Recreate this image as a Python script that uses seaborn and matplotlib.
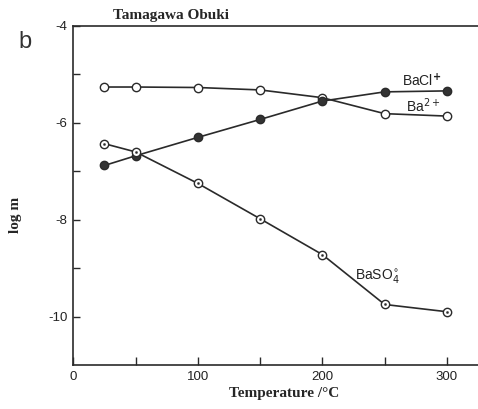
import pandas as pd
import matplotlib
matplotlib.use('Agg')
import matplotlib.pyplot as plt
import seaborn as sns

# datos (log m vs temperatura)
temperatura = [25, 50, 100, 150, 200, 250, 300]
log_ba = [-5.26, -5.26, -5.27, -5.32, -5.48, -5.81, -5.86]
log_bacl = [-6.88, -6.68, -6.30, -5.93, -5.55, -5.36, -5.34]
log_baso4 = [-6.43, -6.60, -7.25, -7.98, -8.72, -9.75, -9.90]

especies = ['Ba2+', 'BaCl+', 'BaSO4']
df = pd.DataFrame({
    'T': temperatura * 3,
    'logm': log_ba + log_bacl + log_baso4,
    'especie': [e for e in especies for _ in temperatura],
})

sns.set_style('ticks')
plt.rcParams['font.family'] = ['Liberation Sans', 'DejaVu Sans']
plt.rcParams['axes.unicode_minus'] = False

fig = plt.figure(figsize=(4.78, 4.09), dpi=100)
ax = fig.add_axes([73.3 / 478, 1 - 365 / 409, 1 - 73.3 / 478, (365 - 26) / 409])

tinta = '#2a2a2a'
relleno = {'Ba2+': 'white', 'BaCl+': '#333333', 'BaSO4': 'white'}
for e in especies:
    sns.lineplot(data=df[df['especie'] == e], x='T', y='logm', ax=ax,
                 color=tinta, linewidth=1.2, marker='o', markersize=6,
                 markerfacecolor=relleno[e], markeredgecolor=tinta,
                 markeredgewidth=1.0)
# punto central de los circulos de BaSO4
sns.scatterplot(x=temperatura, y=log_baso4, ax=ax, s=3, color=tinta,
                edgecolor=None, zorder=5)

ax.set_xlim(0, 325)
ax.set_ylim(-11, -4)
ax.set_xticks([0, 100, 200, 300])
ax.set_xticks([50, 150, 250], minor=True)
ax.set_yticks([-4, -6, -8, -10])
ax.set_yticks([-5, -7, -9], minor=True)
ax.tick_params(axis='both', which='both', direction='in', width=1.0,
               color=tinta, labelsize=9.5, labelcolor='#222222')
ax.tick_params(axis='x', which='both', length=6, pad=4)
ax.tick_params(axis='y', which='both', length=5, pad=4)
ax.set_xlabel('')
ax.set_ylabel('')

for lado in ['left', 'bottom', 'top']:
    ax.spines[lado].set_linewidth(1.2)
    ax.spines[lado].set_color(tinta)
ax.spines['right'].set_visible(False)


# textos en pixeles de la figura (origen arriba-izquierda como en la imagen)
def px(x, y):
    return x / 478, 1 - y / 409


fig.text(*px(402, 86), 'BaCl$^{\\mathbf{+}}$', fontsize=10,
         color='#222222', va='baseline')
fig.text(*px(406, 112), 'Ba$^{2+}$', fontsize=10,
         color='#222222', va='baseline')
fig.text(*px(355, 280), 'BaSO$_4^{\\circ}$', fontsize=10,
         color='#222222', va='baseline')

fig.text(*px(113, 15), 'Tamagawa Obuki', fontsize=11, fontweight='bold',
         family=['Liberation Serif', 'DejaVu Serif'], va='center', ha='left')
fig.text(*px(18, 42), 'b', fontsize=17, va='center', ha='left',
         color='#333333')
fig.text(*px(284, 394), 'Temperature /\u00b0C', fontsize=11, fontweight='bold',
         family=['Liberation Serif', 'DejaVu Serif'], va='center', ha='center')
fig.text(*px(16, 215), 'log m', fontsize=11, fontweight='bold',
         family=['Liberation Serif', 'DejaVu Serif'], va='center', ha='center',
         rotation=90)

fig.savefig('out.png', dpi=100)
